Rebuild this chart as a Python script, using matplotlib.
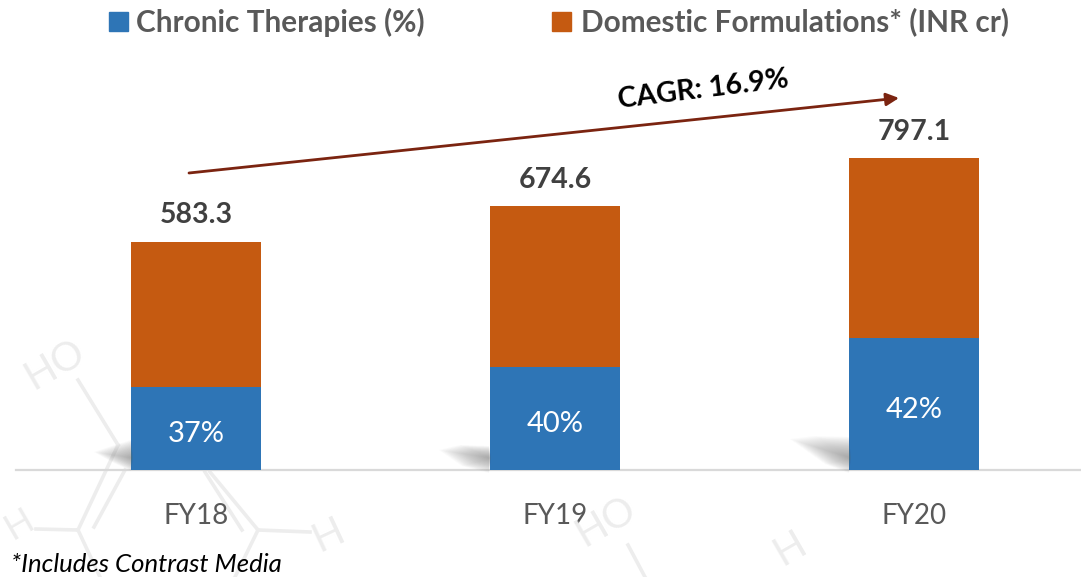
#!/usr/bin/env python3
"""Domestic formulations revenue with chronic therapies share, FY18-FY20."""

import matplotlib
matplotlib.use("Agg")
import matplotlib.pyplot as plt
from matplotlib.patches import FancyArrowPatch, Polygon, Rectangle

plt.rcParams["font.family"] = ["Lato", "DejaVu Sans"]

W, H = 1081, 577

years = ["FY18", "FY19", "FY20"]
totals = [583.3, 674.6, 797.1]
chronic_heights = [213, 264, 337]  # height of the blue part
chronic_labels = ["37%", "40%", "42%"]

BLUE = "#2E75B6"
ORANGE = "#C55A11"
GREY = "#595959"
ARROW = "#7B2410"
MARK = "#EDEDED"


def px(x, y):
    """Reference pixel to figure fraction."""
    return x / W, 1 - y / H


def draw_watermark(fig):
    segments = [
        [(78, 380), (118, 445)], [(118, 445), (78, 530)], [(125, 470), (94, 527)],
        [(78, 530), (36, 529)], [(78, 530), (100, 577)],
        [(210, 472), (258, 530)], [(205, 472), (242, 530)],
        [(258, 530), (310, 532)], [(258, 530), (235, 577)],
        [(628, 545), (645, 577)],
    ]
    for seg in segments:
        xs, ys = zip(*[px(*p) for p in seg])
        fig.add_artist(plt.Line2D(xs, ys, color=MARK, lw=2.6, zorder=0))
    labels = [("HO", 55, 364, 30), ("H", 19, 524, 30), ("H", 328, 535, 25),
              ("HO", 606, 521, 30), ("H", 790, 548, 30)]
    for txt, x, y, rot in labels:
        fx, fy = px(x, y)
        fig.text(fx, fy, txt, color=MARK, fontsize=26 if x < 30 else 29, rotation=rot,
                 ha="center", va="center", zorder=0)


def draw_shadow(fig, anchor, pts, steps=24):
    # soft shadow: stack of pale polygons shrinking towards the dark spot
    for i in range(steps):
        k = 1 - i / steps
        shrunk = [(anchor[0] + (x - anchor[0]) * k, anchor[1] + (y - anchor[1]) * k) for x, y in pts]
        fig.add_artist(Polygon([px(*p) for p in shrunk], closed=True, transform=fig.transFigure,
                               facecolor="#707070", edgecolor="none", alpha=0.03, zorder=1))


def main():
    fig = plt.figure(figsize=(W / 100, H / 100), dpi=100, facecolor="white")
    draw_watermark(fig)
    draw_shadow(fig, (133, 458), [(131, 471), (131, 440), (112, 446), (94, 452), (112, 462)])
    draw_shadow(fig, (491, 458), [(489, 473), (489, 446), (460, 445), (439, 450), (462, 466)])
    draw_shadow(fig, (851, 458), [(849, 473), (849, 437), (815, 436), (790, 439), (825, 464)])

    ax = fig.add_axes([16 / W, (H - 470) / H, (W - 16) / W, 470 / H])
    ax.patch.set_alpha(0)
    ax.set_xlim((16 - 196) / 359, (W - 196) / 359)
    ax.set_ylim(0, 470 / 0.3913)
    x = range(len(years))

    domestic_rest = [t - c for t, c in zip(totals, chronic_heights)]
    ax.bar(x, chronic_heights, width=0.362, color=BLUE, zorder=3)
    ax.bar(x, domestic_rest, width=0.362, bottom=chronic_heights, color=ORANGE, zorder=3)

    for i, year in enumerate(years):
        ax.text(i, chronic_heights[i] / 2 - 15, chronic_labels[i], color="white", fontsize=21,
                ha="center", va="center", zorder=4)
        ax.text(i, totals[i] + 34, f"{totals[i]:.1f}", color="#404040", fontsize=20.5,
                fontweight="bold", ha="center", va="bottom", zorder=4)

    for side in ["top", "right", "left"]:
        ax.spines[side].set_visible(False)
    ax.spines["bottom"].set_color("#D9D9D9")
    ax.spines["bottom"].set_linewidth(1.6)
    ax.set_yticks([])
    ax.set_xticks(list(x))
    ax.set_xticklabels(years, color=GREY, fontsize=20)
    ax.tick_params(axis="x", length=0, pad=24)

    # legend
    fig.add_artist(Rectangle(px(109, 31), 19 / W, 19 / H, transform=fig.transFigure, color=BLUE))
    fig.add_artist(Rectangle(px(552, 31), 19 / W, 19 / H, transform=fig.transFigure, color=ORANGE))
    fx, fy = px(136, 22)
    fig.text(fx, fy, "Chronic Therapies (%)", color=GREY, fontsize=21.4, fontweight="bold", va="center")
    fx, fy = px(581, 22)
    fig.text(fx, fy, "Domestic Formulations* (INR cr)", color=GREY, fontsize=21.4, fontweight="bold", va="center")

    # CAGR arrow
    fig.add_artist(FancyArrowPatch(
        px(189, 173), px(899, 98), transform=fig.transFigure, arrowstyle="-|>",
        mutation_scale=19, color=ARROW, lw=2, shrinkA=0, shrinkB=0))
    fx, fy = px(703, 90)
    fig.text(fx, fy, "CAGR: 16.9%", color="black", fontsize=20.5, fontweight="bold",
             rotation=7, ha="center", va="center", rotation_mode="anchor")

    fx, fy = px(11, 565)
    fig.text(fx, fy, "*Includes Contrast Media", color="black", fontsize=18.5, style="italic", va="center")

    fig.savefig("out.png", dpi=100, facecolor="white")


if __name__ == "__main__":
    main()
